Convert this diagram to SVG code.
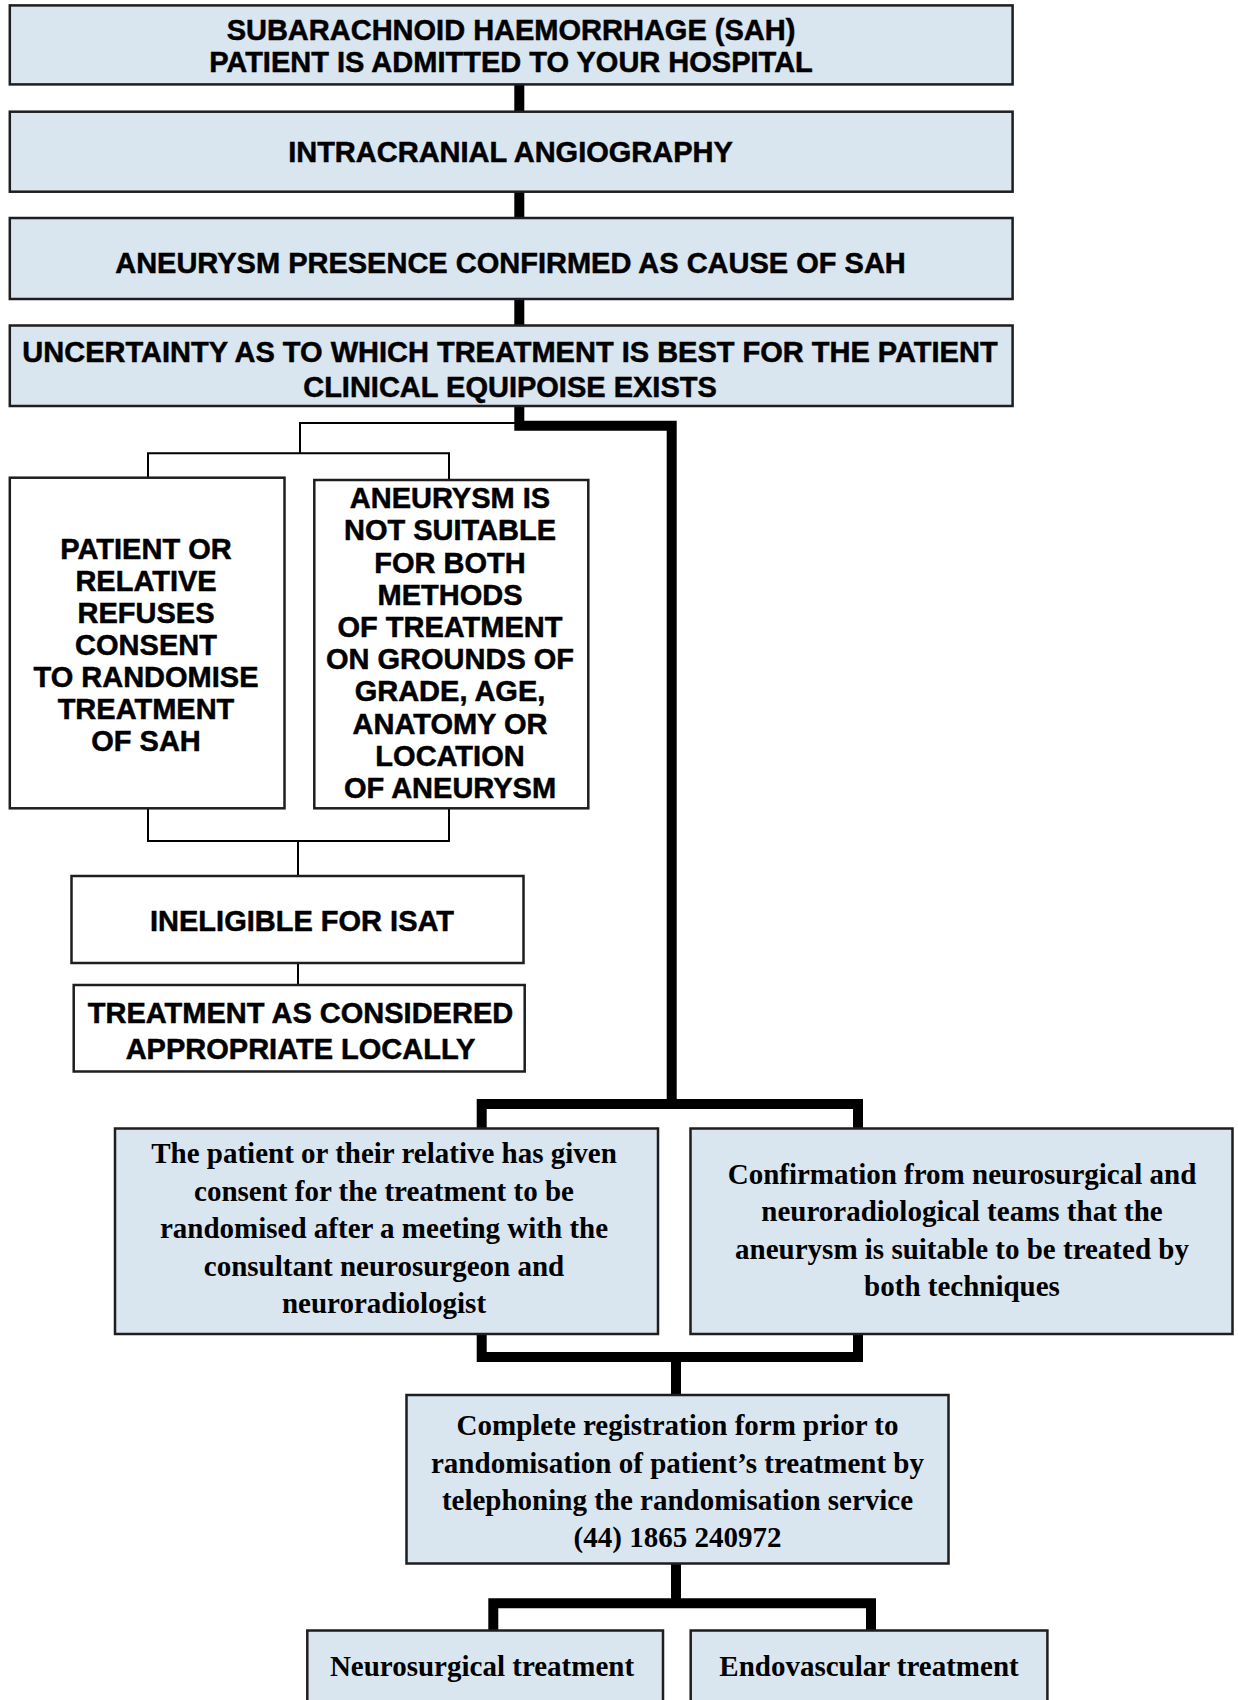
<svg xmlns="http://www.w3.org/2000/svg" width="1238" height="1700" viewBox="0 0 1238 1700">
<style>
.bl{fill:#d9e5ef;stroke:#1e1e1e;stroke-width:2.5}
.wh{fill:#ffffff;stroke:#1e1e1e;stroke-width:2.5}
.sa{font-family:'Liberation Sans',Arial,sans-serif;font-weight:bold;font-size:29px;fill:#000;stroke:#000;stroke-width:0.5;text-anchor:middle}
.se{font-family:'Liberation Serif','Times New Roman',serif;font-weight:bold;font-size:29px;fill:#000;text-anchor:middle}
.thick{fill:none;stroke:#000;stroke-width:10;stroke-linejoin:miter}
.thin{fill:none;stroke:#000;stroke-width:2}
</style>
<rect width="1238" height="1700" fill="#fff"/>
<g id="connectors">
<path class="thick" d="M519.3 84 V113"/>
<path class="thick" d="M519.3 191 V220"/>
<path class="thick" d="M519.3 298 V327"/>
<path class="thick" d="M519.3 406 V425.7 H671.7 V1104"/>
<path class="thick" d="M481.7 1129 V1104 H858 V1129"/>
<path class="thick" d="M481.7 1334 V1357 H858 V1334"/>
<path class="thick" d="M676 1357 V1396"/>
<path class="thick" d="M676 1563 V1603.3"/>
<path class="thick" d="M493.3 1630 V1603.3 H871 V1630"/>
<path class="thin" d="M515 423 H300 V453.3"/>
<path class="thin" d="M148 478 V453.3 H449 V481"/>
<path class="thin" d="M148 808 V841 H449 V808"/>
<path class="thin" d="M298 841 V876"/>
<path class="thin" d="M298 963 V985"/>
</g>
<g id="n1">
<rect class="bl" x="9.8" y="5.4" width="1002.8" height="79"/>
<text class="sa" x="511" y="40">SUBARACHNOID HAEMORRHAGE (SAH)</text>
<text class="sa" x="511" y="72">PATIENT IS ADMITTED TO YOUR HOSPITAL</text>
</g>
<g id="n2">
<rect class="bl" x="9.8" y="111.7" width="1002.8" height="80"/>
<text class="sa" x="510.5" y="162">INTRACRANIAL ANGIOGRAPHY</text>
</g>
<g id="n3">
<rect class="bl" x="9.8" y="218" width="1002.8" height="81"/>
<text class="sa" x="510.5" y="273">ANEURYSM PRESENCE CONFIRMED AS CAUSE OF SAH</text>
</g>
<g id="n4">
<rect class="bl" x="9.8" y="325.5" width="1002.8" height="80.5"/>
<text class="sa" x="510" y="361.5">UNCERTAINTY AS TO WHICH TREATMENT IS BEST FOR THE PATIENT</text>
<text class="sa" x="510" y="397">CLINICAL EQUIPOISE EXISTS</text>
</g>
<g id="nA">
<rect class="wh" x="9.8" y="477.7" width="274.7" height="330.6"/>
<text class="sa" x="146"><tspan x="146" y="558.5">PATIENT OR</tspan><tspan x="146" y="590.5">RELATIVE</tspan><tspan x="146" y="622.5">REFUSES</tspan><tspan x="146" y="654.5">CONSENT</tspan><tspan x="146" y="686.5">TO RANDOMISE</tspan><tspan x="146" y="718.5">TREATMENT</tspan><tspan x="146" y="750.5">OF SAH</tspan></text>
</g>
<g id="nB">
<rect class="wh" x="314.3" y="480" width="274" height="328.3"/>
<text class="sa" x="450"><tspan x="450" y="508">ANEURYSM IS</tspan><tspan x="450" y="540.3">NOT SUITABLE</tspan><tspan x="450" y="572.5">FOR BOTH</tspan><tspan x="450" y="604.7">METHODS</tspan><tspan x="450" y="637">OF TREATMENT</tspan><tspan x="450" y="669.2">ON GROUNDS OF</tspan><tspan x="450" y="701.4">GRADE, AGE,</tspan><tspan x="450" y="733.6">ANATOMY OR</tspan><tspan x="450" y="765.9">LOCATION</tspan><tspan x="450" y="798">OF ANEURYSM</tspan></text>
</g>
<g id="nC">
<rect class="wh" x="71.5" y="876" width="452" height="87"/>
<text class="sa" x="302" y="931">INELIGIBLE FOR ISAT</text>
</g>
<g id="nD">
<rect class="wh" x="73.7" y="985" width="451" height="86.5"/>
<text class="sa" x="300.5" y="1023">TREATMENT AS CONSIDERED</text>
<text class="sa" x="300.5" y="1059">APPROPRIATE LOCALLY</text>
</g>
<g id="nE">
<rect class="bl" x="115" y="1128.5" width="543" height="205.5"/>
<text class="se" x="384"><tspan x="384" y="1163">The patient or their relative has given</tspan><tspan x="384" y="1200.5">consent for the treatment to be</tspan><tspan x="384" y="1238">randomised after a meeting with the</tspan><tspan x="384" y="1275.5">consultant neurosurgeon and</tspan><tspan x="384" y="1313">neuroradiologist</tspan></text>
</g>
<g id="nF">
<rect class="bl" x="690.5" y="1128.5" width="542" height="205.5"/>
<text class="se" x="962"><tspan x="962" y="1183.5">Confirmation from neurosurgical and</tspan><tspan x="962" y="1221">neuroradiological teams that the</tspan><tspan x="962" y="1258.5">aneurysm is suitable to be treated by</tspan><tspan x="962" y="1296">both techniques</tspan></text>
</g>
<g id="nG">
<rect class="bl" x="406.5" y="1395" width="542" height="168.5"/>
<text class="se" x="677.5"><tspan x="677.5" y="1435">Complete registration form prior to</tspan><tspan x="677.5" y="1472.5">randomisation of patient’s treatment by</tspan><tspan x="677.5" y="1510">telephoning the randomisation service</tspan><tspan x="677.5" y="1547">(44) 1865 240972</tspan></text>
</g>
<g id="nH">
<rect class="bl" x="307.3" y="1630.5" width="355.7" height="90"/>
<text class="se" x="482" y="1676">Neurosurgical treatment</text>
</g>
<g id="nI">
<rect class="bl" x="690.7" y="1630.5" width="356.7" height="90"/>
<text class="se" x="869" y="1676">Endovascular treatment</text>
</g>
</svg>
